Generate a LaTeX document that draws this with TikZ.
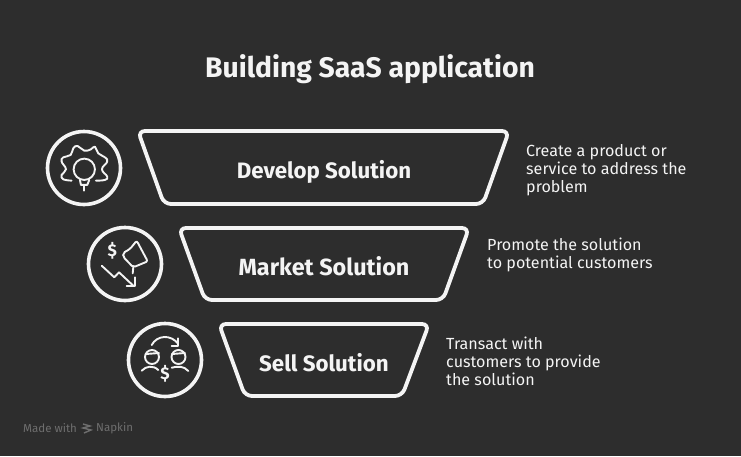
\documentclass[tikz,border=0pt]{standalone}
\usepackage{fontspec}
\setmainfont{Fira Sans}
\definecolor{boardbg}{HTML}{2D2D2D}
\definecolor{chalk}{HTML}{F4F4F4}
\definecolor{footgray}{HTML}{6E6E6E}
\tikzset{
    funnel/.style={draw=chalk, line width=3.8pt, rounded corners=7pt},
    ring/.style={draw=chalk, line width=3.6pt},
    glyph/.style={draw=chalk, line width=1.9pt, line cap=round, line join=round},
    steplabel/.style={text=chalk, font=\fontsize{22.3}{24}\selectfont\bfseries},
    dollarsign/.style={text=chalk, inner sep=0pt, font=\fontsize{17}{17}\selectfont\bfseries},
    note/.style={text=chalk, font=\fontsize{16.1}{18}\selectfont, align=left, anchor=north west, inner sep=0pt},
    foot/.style={text=footgray, font=\fontsize{11.5}{13}\selectfont, anchor=west, inner sep=0pt}
}
\begin{document}
\begin{tikzpicture}[x=1pt, y=-1pt]
    \useasboundingbox [fill=boardbg] ( 0, 0 ) rectangle ( 741, 456 );

    % title
    \node (title) [text=chalk, font=\fontsize{28.3}{30}\selectfont\bfseries] at ( 370, 69.5 ) {Building SaaS application};

    % funnel
    \draw [funnel] ( 138, 131 ) -- ( 509, 131 ) -- ( 483, 204 ) -- ( 164, 204 ) -- cycle;
    \draw [funnel] ( 179, 228 ) -- ( 469, 228 ) -- ( 443, 300 ) -- ( 205, 300 ) -- cycle;
    \draw [funnel] ( 219, 324 ) -- ( 429, 324 ) -- ( 402, 396 ) -- ( 245, 396 ) -- cycle;
    \node (develop) [steplabel] at ( 324, 172 ) {Develop Solution};
    \node (market) [steplabel, font=\fontsize{23.4}{24}\selectfont\bfseries] at ( 324, 266 ) {Market Solution};
    \node (sell) [steplabel] at ( 324, 363 ) {Sell Solution};

    % rings
    \draw [ring] ( 84, 168 ) circle ( 36.5 );
    \draw [ring] ( 125, 264 ) circle ( 36.5 );
    \draw [ring] ( 165, 360 ) circle ( 36.5 );

    % gear with bulb
    \begin{scope}[shift={( 30, 120 )}, x=0.333pt, y=-0.333pt]
        \draw [glyph] plot [smooth, tension=0.75] coordinates { ( 125, 182 ) ( 100, 178 ) ( 95, 165 ) ( 108, 148 ) ( 95, 125 ) ( 100, 112 ) ( 122, 105 ) ( 130, 85 ) ( 143, 78 ) ( 163, 92 ) ( 183, 88 ) ( 195, 80 ) ( 205, 100 ) ( 225, 112 ) ( 232, 125 ) ( 216, 148 ) ( 232, 170 ) ( 225, 180 ) ( 198, 182 ) };
        \draw [glyph] ( 163, 148 ) circle ( 32 );
        \draw [glyph] ( 150, 180 ) -- ( 153, 195 ) -- ( 172, 195 ) -- ( 178, 180 );
        \draw [glyph] ( 162, 195 ) -- ( 162, 212 );
    \end{scope}

    % dollar, megaphone and falling line
    \node (dollartop) [dollarsign] at ( 112.3, 251.3 ) {\$};
    \draw [glyph, rounded corners=2pt] ( 136.7, 240.7 ) -- ( 130, 249 ) -- ( 123, 253 ) -- ( 123.3, 257 ) -- ( 133.3, 267.3 ) -- ( 147.7, 261.3 ) -- cycle;
    \draw [glyph] ( 133.3, 267.3 ) -- ( 132.7, 273.3 );
    \draw [glyph] ( 101.7, 265.7 ) -- ( 114.3, 277.3 ) -- ( 119, 272.3 ) -- ( 133.3, 285.7 );
    \draw [glyph] ( 126.7, 285.7 ) -- ( 135, 285.7 ) -- ( 135, 277.3 );

    % two people and dollar
    \draw [glyph] ( 152, 357 ) circle ( 7 );
    \draw [glyph] ( 146, 354 ) -- ( 159, 353 );
    \draw [glyph] ( 178.5, 357 ) circle ( 7 );
    \draw [glyph] ( 172, 354 ) -- ( 185, 353 );
    \draw [glyph] ( 141.7, 370.7 ) .. controls ( 146, 366 ) and ( 153, 365 ) .. ( 158.3, 370 );
    \draw [glyph] ( 171.7, 367.7 ) .. controls ( 178, 366 ) and ( 184, 366 ) .. ( 188.3, 371 );
    \draw [glyph] ( 151.7, 345 ) .. controls ( 157, 335 ) and ( 171, 334 ) .. ( 178.3, 344 );
    \draw [glyph] ( 171.7, 345.7 ) -- ( 178.3, 345.7 ) -- ( 178.3, 338.3 );
    \node (dollarlow) [dollarsign] at ( 165, 374.3 ) {\$};

    % notes
    \node (noteone) [note] at ( 526, 144.5 ) {Create a product or\\service to address the\\problem};
    \node (notetwo) [note] at ( 487, 237.5 ) {Promote the solution\\to potential customers};
    \node (notethree) [note] at ( 446, 336.5 ) {Transact with\\customers to provide\\the solution};

    % footer
    \node (made) [foot] at ( 23, 428.5 ) {Made with};
    \draw [footgray, line width=1.4pt] ( 83, 424 ) -- ( 90, 426 ) -- ( 83, 428 ) -- ( 91, 430 ) -- ( 84, 433 );
    \node (napkin) [foot] at ( 96, 428.5 ) {Napkin};
\end{tikzpicture}
\end{document}
